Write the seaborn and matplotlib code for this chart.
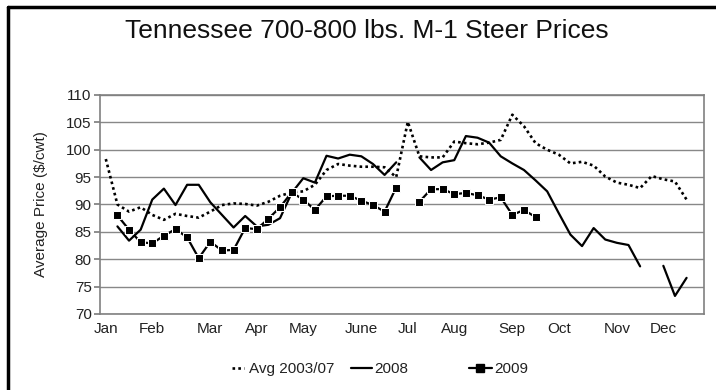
import numpy as np
import pandas as pd
import matplotlib
matplotlib.use("Agg")
import matplotlib.pyplot as plt
from matplotlib.lines import Line2D
import seaborn as sns

NA = np.nan
weeks = list(range(52))
month_labels = ["Jan", "Feb", "Mar", "Apr", "May", "June", "Jul", "Aug", "Sep", "Oct", "Nov", "Dec"]
month_weeks = [0, 4, 9, 13, 17, 22, 26, 30, 35, 39, 44, 48]

avg_0307 = [98.3, 90.0, 88.7, 89.5, 88.1, 87.2, 88.3, 87.9, 87.6, 88.7, 89.9, 90.2, 90.1,
            89.8, 90.5, 91.6, 92.2, 92.4, 93.6, 96.3, 97.4, 97.1, 96.9, 96.9, 96.8, 95.0,
            105.1, 98.8, 98.6, 98.6, 101.5, 101.2, 101.0, 101.3, 101.8, 106.4, 104.3, 101.2,
            100.0, 99.1, 97.5, 97.8, 97.1, 95.1, 94.0, 93.6, 93.0, 95.2, 94.6, 94.2, 90.9, NA]
y2008 = [NA, 86.0, 83.4, 85.4, 90.9, 92.9, 89.9, 93.6, 93.6, 90.4, 88.1, 85.8, 87.9,
         86.0, 86.3, 87.5, 92.1, 94.8, 94.0, 98.9, 98.4, 99.1, 98.8, 97.4, 95.4, 97.7,
         NA, 98.6, 96.3, 97.7, 98.1, 102.5, 102.2, 101.3, 98.8, 97.5, 96.3, 94.4, 92.4,
         88.4, 84.5, 82.4, 85.7, 83.6, 83.0, 82.6, 78.7, NA, 78.8, 73.3, 76.6, NA]
y2009 = [NA, 88.0, 85.4, 83.1, 82.9, 84.3, 85.5, 84.0, 80.2, 83.2, 81.6, 81.7, 85.7,
         85.5, 87.4, 89.5, 92.2, 90.9, 89.0, 91.5, 91.6, 91.6, 90.7, 89.9, 88.7, 93.1,
         NA, 90.5, 92.8, 92.8, 91.9, 92.1, 91.7, 90.9, 91.3, 88.1, 89.0, 87.7,
         NA, NA, NA, NA, NA, NA, NA, NA, NA, NA, NA, NA, NA, NA]

series_names = ["Avg 2003/07", "2008", "2009"]
series_values = [avg_0307, y2008, y2009]

sns.set_theme(style="white")
plt.rcParams["font.family"] = ["Liberation Sans", "DejaVu Sans"]

FS = 11
TXT = "#222222"

fig = plt.figure(figsize=(7.16, 3.9), dpi=100)
ax = fig.add_axes([100 / 716, 1 - 314 / 390, 604 / 716, 219 / 390])

styles = {
    "Avg 2003/07": dict(color="black", linestyle=(0, (1, 1.2)), linewidth=1.9),
    "2008": dict(color="black", linestyle="-", linewidth=1.6),
    "2009": dict(color="black", linestyle="-", linewidth=1.6, marker="s", markersize=5.2),
}

for name, vals in zip(series_names, series_values):
    df = pd.DataFrame({"week": weeks, "price": vals})
    df["seg"] = df["price"].isna().cumsum()
    df = df.dropna()
    for _, seg in df.groupby("seg"):
        sns.lineplot(data=seg, x="week", y="price", ax=ax, legend=False,
                     estimator=None, **styles[name])

ax.set_xlim(-0.5, 51.5)
ax.set_ylim(70, 110)
ax.set_yticks(range(70, 111, 5))
ax.set_xticks(month_weeks)
ax.set_xticklabels(month_labels)
ax.yaxis.grid(True, color="#888888", linewidth=1.0)
ax.xaxis.grid(False)
ax.set_axisbelow(True)
for s in ax.spines.values():
    s.set_color("#808080")
    s.set_linewidth(1.2)
ax.tick_params(axis="y", which="major", length=4, color="#808080", labelsize=FS,
               labelcolor=TXT, pad=2, left=True)
ax.tick_params(axis="x", length=0, labelsize=FS, labelcolor=TXT, pad=6)
ax.set_xlabel("")
ax.set_ylabel("Average Price ($/cwt)", fontsize=FS, color=TXT, labelpad=13)

fig.text(367 / 716, 1 - 31 / 390, "Tennessee 700-800 lbs. M-1 Steer Prices",
         ha="center", va="center", fontsize=19, color="#111111")

legend_specs = [
    ("Avg 2003/07", 224, 0.8, 0.35),
    ("2008", 343, 1.4, 0.15),
    ("2009", 461, 1.5, 0.15),
]
for name, x0, hl, tp in legend_specs:
    h = Line2D([], [], **styles[name])
    fig.legend([h], [name], frameon=False, loc="center left",
               bbox_to_anchor=(x0 / 716, 1 - 369 / 390), borderpad=0,
               handlelength=hl, handletextpad=tp, fontsize=FS, labelcolor=TXT)

fig.add_artist(Line2D([8 / 716, 1], [1 - 7 / 390, 1 - 7 / 390], color="black",
                      linewidth=2.5, transform=fig.transFigure))
fig.add_artist(Line2D([8 / 716, 8 / 716], [0, 1 - 7 / 390], color="black",
                      linewidth=2.5, transform=fig.transFigure))

fig.savefig("out.png", dpi=100)
